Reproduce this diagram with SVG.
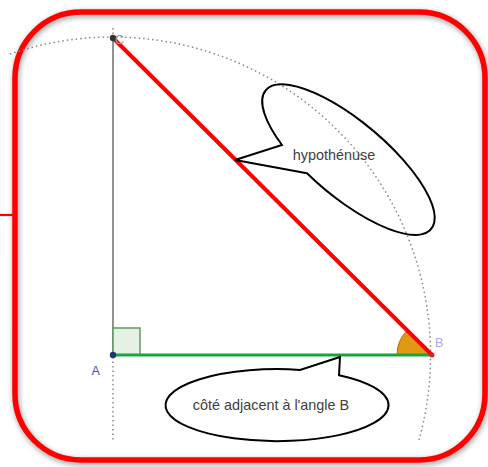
<svg xmlns="http://www.w3.org/2000/svg" width="488" height="467" viewBox="0 0 488 467">
  <defs>
    <filter id="sh" x="-10%" y="-10%" width="120%" height="120%">
      <feGaussianBlur stdDeviation="2.5"/>
    </filter>
    <style>
      .lbl { font-family: "Liberation Sans", Arial, sans-serif; fill: #404040; font-size: 14.4px; text-anchor: middle; }
      .pt { font-family: "Liberation Sans", Arial, sans-serif; font-size: 12.5px; }
      .callout { fill: none; stroke: #000; stroke-width: 2; stroke-linejoin: miter; }
      .dot { fill: none; stroke: #888; stroke-width: 1.5; stroke-dasharray: 1.5 3; }
    </style>
  </defs>
  <rect width="488" height="467" fill="#ffffff"/>

  <g id="frame">
    <rect x="16" y="14" width="470" height="448" rx="66" ry="66" fill="none" stroke="#9a9a9a" stroke-width="7" filter="url(#sh)" opacity="0.8"/>
    <rect x="15" y="12" width="470" height="448" rx="66" ry="66" fill="none" stroke="#ff0000" stroke-width="5.5"/>
    <line x1="0" y1="215" x2="15" y2="215" stroke="#ff0000" stroke-width="2.2"/>
  </g>

  <g id="construction">
    <path class="dot" d="M 10 54 A 318 318 0 0 1 419 440"/>
    <line class="dot" x1="113" y1="357" x2="113" y2="440"/>
    <line class="dot" x1="113" y1="28" x2="113" y2="36"/>
  </g>

  <g id="connectors">
    <line id="side-AC" x1="113" y1="38" x2="113" y2="355" stroke="#777" stroke-width="1.6"/>
    <rect id="right-angle" x="113" y="328" width="27" height="27" fill="#e4f1e4" stroke="#5f9a5f" stroke-width="1.5"/>
    <path id="angle-B" d="M 432 355 L 397 355 A 35 35 0 0 1 407.1 330.4 Z" fill="#e09a12" stroke="#a86e00" stroke-width="1"/>
    <line id="side-AB" x1="113" y1="355" x2="432" y2="355" stroke="#14a83c" stroke-width="3"/>
    <line id="side-BC" x1="113" y1="38" x2="432" y2="355" stroke="#ff0000" stroke-width="4"/>
  </g>

  <g id="point-C">
    <circle cx="113" cy="38" r="3.2" fill="#333"/>
    <text class="pt" x="115" y="44" fill="#999">C</text>
  </g>
  <g id="point-A">
    <circle cx="113" cy="355" r="3.2" fill="#1a3a6a"/>
    <text class="pt" x="91.5" y="375" fill="#4848e0">A</text>
  </g>
  <g id="point-B">
    <circle cx="432" cy="355" r="2.5" fill="#e02020"/>
    <text class="pt" x="435" y="347" fill="#a8a8f0">B</text>
  </g>

  <g id="callout-hypotenuse">
    <path class="callout" d="M 307 173.3 L 235 160 L 282 145 A 108 38 40 1 1 307 173.3 Z"/>
    <text class="lbl" x="334" y="160">hypothénuse</text>
  </g>

  <g id="callout-adjacent">
    <path class="callout" d="M 339 375.2 L 340 357 L 300 369.9 A 111.5 36 0 1 0 339 375.2 Z"/>
    <text class="lbl" x="271" y="410">côté adjacent à l'angle B</text>
  </g>
</svg>
